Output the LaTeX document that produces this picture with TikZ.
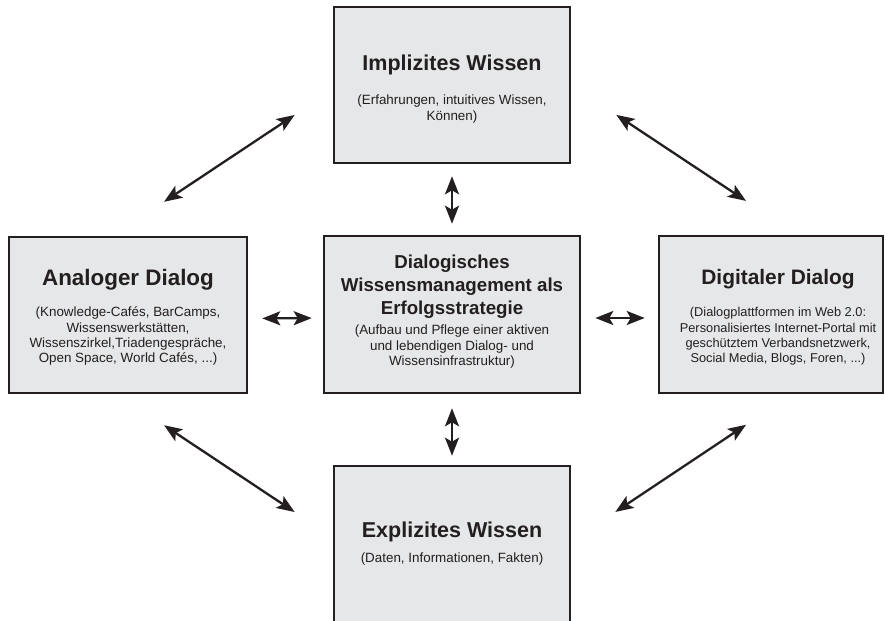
\documentclass[tikz,border=0pt]{standalone}
\usepackage{fontspec}
\setmainfont{Liberation Sans}
\usepackage{xcolor}
\usetikzlibrary{arrows.meta}

\definecolor{boxfill}{HTML}{E6E7E8}
\definecolor{ink}{HTML}{231F20}
\newcommand{\headfont}[1][21.5pt]{\fontsize{#1}{23pt}\selectfont\bfseries}
\newcommand{\notefont}[1][13.4pt]{\fontsize{#1}{15.3pt}\selectfont}

\begin{document}
\begin{tikzpicture}[x=1pt, y=-1pt,
    block/.style={draw=ink, fill=boxfill, line width=2.6pt, inner sep=0pt},
    head/.style={font=\headfont, text=ink, align=center, anchor=base, inner sep=0pt},
    note/.style={font=\notefont, text=ink, align=center, anchor=base, inner sep=0pt},
    biarrow/.style={draw=ink, line width=2.3pt, >={Stealth[length=18pt,width=14pt,inset=4pt]}, <->}]
    \useasboundingbox (0,0) rectangle (886,621);
    \clip (0,0) rectangle (886,621);
    % boxes
    \node [block, minimum width=236pt, minimum height=156pt] (impl) at (452,85) {};
    \node [block, minimum width=238pt, minimum height=156pt] (anal) at (128,315) {};
    \node [block, minimum width=256pt, minimum height=157pt] (dial) at (452,314.5) {};
    \node [block, minimum width=224pt, minimum height=157pt] (digi) at (771,314.5) {};
    \node [block, minimum width=236pt, minimum height=160pt] (expl) at (452,546) {};
    % texts (base = last line)
    \node [head] (impl-head) at (452,70.7) {Implizites Wissen};
    \node [note] (impl-note) at (452,120.1) {(Erfahrungen, intuitives Wissen,\\ Können)};
    \node [head, font={\headfont[22.4pt]}] (anal-head) at (128,285) {Analoger Dialog};
    \node [note] (anal-note) at (128,362.7) {(Knowledge-Cafés, BarCamps,\\ Wissenswerkstätten,\\ Wissenszirkel,Triadengespräche,\\ Open Space, World Cafés, ...)};
    \node [head, font={\headfont[18.7pt]}] (dial-head) at (452,314.3) {Dialogisches\\ Wissensmanagement als\\ Erfolgsstrategie};
    \node [note] (dial-note) at (452,365.4) {(Aufbau und Pflege einer aktiven\\ und lebendigen Dialog- und\\ Wissensinfrastruktur)};
    \node [head, font={\headfont[20.9pt]}] (digi-head) at (778,284.5) {Digitaler Dialog};
    \node [note, font={\notefont[12.8pt]}] (digi-note) at (778,362.7) {(Dialogplattformen im Web 2.0:\\ Personalisiertes Internet-Portal mit\\ geschütztem Verbandsnetzwerk,\\ Social Media, Blogs, Foren, ...)};
    \node [head] (expl-head) at (452,537.7) {Explizites Wissen};
    \node [note] (expl-note) at (452,562.8) {(Daten, Informationen, Fakten)};
    % arrows
    \draw [biarrow, shorten <=61.3pt, shorten >=45.7pt] ([xshift=-15pt]anal.north) to ([yshift=-4.7pt]impl.west);
    \draw [biarrow, shorten <=54pt, shorten >=61.2pt] (impl.east) to ([xshift=26pt]digi.north);
    \draw [biarrow, shorten <=55.9pt, shorten >=45.7pt] ([xshift=-10.5pt]anal.south) to ([yshift=8.7pt]expl.west);
    \draw [biarrow, shorten <=52.9pt, shorten >=54.9pt] ([yshift=4.7pt]expl.east) to ([xshift=20.7pt]digi.south);
    \draw [biarrow, shorten <=14pt, shorten >=11pt] ([yshift=-3.5pt]anal.east) to ([yshift=-3.5pt]dial.west);
    \draw [biarrow, shorten <=14pt, shorten >=13pt] ([yshift=-3.5pt]dial.east) to ([yshift=-3.5pt]digi.west);
    \draw [biarrow, shorten <=12pt, shorten >=11pt] (impl.south) to (dial.north);
    \draw [biarrow, shorten <=14pt, shorten >=9pt] (dial.south) to (expl.north);
  \end{tikzpicture}
\end{document}
